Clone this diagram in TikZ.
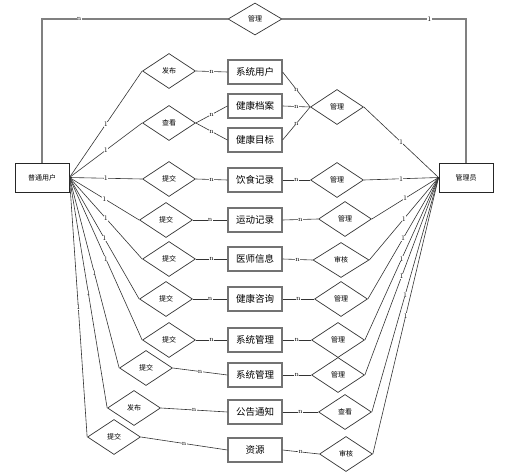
\documentclass[tikz,border=0pt]{standalone}
\usepackage{fontspec}
\usepackage{tikz}
\usetikzlibrary{shapes.geometric}
\newfontfamily\cjk{Noto Sans CJK SC}

\begin{document}
\begin{tikzpicture}[x=1pt, y=-1pt, font=\cjk,
	entity/.style={rectangle, draw=black!55, line width=1.2pt, minimum width=54pt, minimum height=24pt, inner sep=0pt, font=\cjk\fontsize{9.5}{10}\selectfont},
	rel/.style={diamond, draw=black!80, line width=0.7pt, minimum width=53pt, minimum height=35pt, inner sep=0pt, font=\cjk\fontsize{7}{8}\selectfont},
	role/.style={rectangle, draw=black!85, line width=0.9pt, minimum width=54pt, minimum height=29pt, inner sep=0pt, font=\cjk\fontsize{7}{8}\selectfont},
	link/.style={draw=black!80, line width=0.6pt},
	border/.style={draw=black!50, line width=1.5pt},
	card/.style={font=\fontsize{7}{7}\selectfont, inner sep=0.3pt, fill=white}]
	\useasboundingbox (0,0) rectangle (525,476);

	\node [role] (user) at (42,177.5) {普通用户};
	\node [role] (admin) at (466,177.5) {管理员};

	\node [rel, minimum width=54pt, minimum height=32pt] (t0) at (255,19) {管理};

	\node [rel] (l1) at (169,71) {发布};
	\node [rel] (l2) at (169,123) {查看};
	\node [rel] (l3) at (169,179) {提交};
	\node [rel] (l4) at (166,220) {提交};
	\node [rel] (l5) at (169,259) {提交};
	\node [rel] (l6) at (166,299) {提交};
	\node [rel] (l7) at (169,340) {提交};
	\node [rel] (l8) at (146,368) {提交};
	\node [rel] (l9) at (134,408) {发布};
	\node [rel] (l10) at (114,437) {提交};

	\node [entity] (e1) at (255,72) {系统用户};
	\node [entity] (e2) at (255,106) {健康档案};
	\node [entity] (e3) at (255,140) {健康目标};
	\node [entity] (e4) at (255,180) {饮食记录};
	\node [entity] (e5) at (255,220) {运动记录};
	\node [entity] (e6) at (255,259) {医师信息};
	\node [entity] (e7) at (255,299) {健康咨询};
	\node [entity] (e8) at (255,340) {系统管理};
	\node [entity] (e9) at (255,375) {系统管理};
	\node [entity] (e10) at (255,412) {公告通知};
	\node [entity] (e11) at (255,450) {资源};

	\node [rel] (r1) at (337,107) {管理};
	\node [rel] (r2) at (337,180) {管理};
	\node [rel] (r3) at (345,219) {管理};
	\node [rel, minimum width=56pt] (r4) at (341,260) {审核};
	\node [rel] (r5) at (341,299) {管理};
	\node [rel] (r6) at (338,340) {管理};
	\node [rel] (r7) at (338,375) {管理};
	\node [rel] (r8) at (345,412) {查看};
	\node [rel] (r9) at (346,454) {审核};

	\draw [border] (user.north) |- node [card, pos=0.6] {n} (t0.west);
	\draw [border] (t0.east) -| node [card, pos=0.4] {1} (admin.north);

	\draw [link] (user.east) -- node [card] {1} (l1.west);
	\draw [link] (user.east) -- node [card] {1} (l2.west);
	\draw [link] (user.east) -- node [card] {1} (l3.west);
	\draw [link] (user.east) -- node [card] {1} (l4.west);
	\draw [link] (user.east) -- node [card] {1} (l5.west);
	\draw [link] (user.east) -- node [card] {1} (l6.west);
	\draw [link] (user.east) -- node [card] {1} (l7.west);
	\draw [link] (user.east) -- node [card] {1} (l8.west);
	\draw [link] (user.east) -- node [card] {1} (l9.west);
	\draw [link] (user.east) -- node [card] {1} (l10.west);

	\draw [link] (l1.east) -- node [card] {n} (e1.west);
	\draw [link] (l2.east) -- node [card] {n} (e2.west);
	\draw [link] (l2.east) -- node [card] {n} (e3.west);
	\draw [link] (l3.east) -- node [card] {n} (e4.west);
	\draw [link] (l4.east) -- node [card] {n} (e5.west);
	\draw [link] (l5.east) -- node [card] {n} (e6.west);
	\draw [link] (l6.east) -- node [card] {n} (e7.west);
	\draw [link] (l7.east) -- node [card] {n} (e8.west);
	\draw [link] (l8.east) -- node [card] {n} (e9.west);
	\draw [link] (l9.east) -- node [card] {n} (e10.west);
	\draw [link] (l10.east) -- node [card] {n} (e11.west);

	\draw [link] (e1.east) -- node [card] {n} (r1.west);
	\draw [link] (e2.east) -- node [card] {n} (r1.west);
	\draw [link] (e3.east) -- node [card] {n} (r1.west);
	\draw [link] (e4.east) -- node [card] {n} (r2.west);
	\draw [link] (e5.east) -- node [card] {n} (r3.west);
	\draw [link] (e6.east) -- node [card] {n} (r4.west);
	\draw [link] (e7.east) -- node [card] {n} (r5.west);
	\draw [link] (e8.east) -- node [card] {n} (r6.west);
	\draw [link] (e9.east) -- node [card] {n} (r7.west);
	\draw [link] (e10.east) -- node [card] {n} (r8.west);
	\draw [link] (e11.east) -- node [card] {n} (r9.west);

	\draw [link] (r1.east) -- node [card] {1} (admin.west);
	\draw [link] (r2.east) -- node [card] {1} (admin.west);
	\draw [link] (r3.east) -- node [card] {1} (admin.west);
	\draw [link] (r4.east) -- node [card] {1} (admin.west);
	\draw [link] (r5.east) -- node [card] {1} (admin.west);
	\draw [link] (r6.east) -- node [card] {1} (admin.west);
	\draw [link] (r7.east) -- node [card] {1} (admin.west);
	\draw [link] (r8.east) -- node [card] {1} (admin.west);
	\draw [link] (r9.east) -- node [card] {1} (admin.west);
\end{tikzpicture}
\end{document}
